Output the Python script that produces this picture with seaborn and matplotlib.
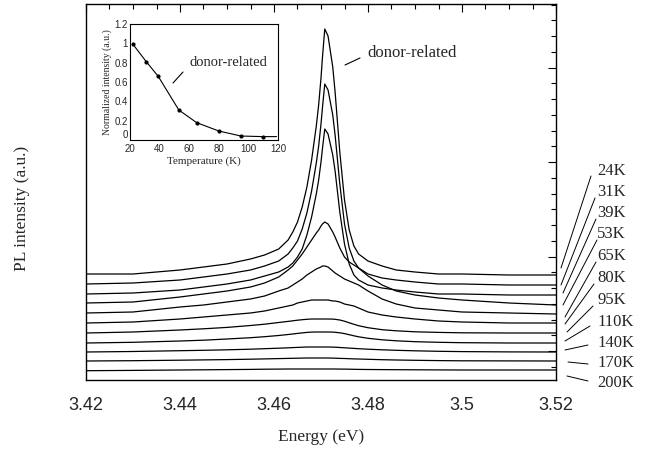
import matplotlib
matplotlib.use("Agg")
import numpy as np
import pandas as pd
import matplotlib.pyplot as plt
import seaborn as sns
from matplotlib.ticker import MultipleLocator, FixedLocator, FixedFormatter
from matplotlib.lines import Line2D

sns.set_theme(style="white")
plt.rcParams['font.family'] = ['Liberation Serif', 'DejaVu Serif']

# ---------------- data ----------------
energy = [3.42, 3.43, 3.44, 3.445, 3.45, 3.455, 3.458, 3.461, 3.463, 3.464, 3.465,
          3.466, 3.467, 3.468, 3.469, 3.4695, 3.470, 3.4703, 3.4708, 3.4715, 3.4725,
          3.473, 3.474, 3.475, 3.476, 3.477, 3.478, 3.480, 3.483, 3.486, 3.49,
          3.495, 3.50, 3.51, 3.52]

temperatures = ["24K", "31K", "39K", "53K", "65K", "80K", "95K", "110K", "140K", "170K", "200K"]

pl_24K = [106, 106, 110, 113, 116, 121, 125, 131, 140, 148, 158, 173, 193, 220, 254, 275,
          302, 322, 351, 344, 313, 288, 228, 180, 150, 134, 126, 119, 114, 110, 108, 106,
          106, 105, 105]
pl_31K = [96, 97, 100, 103, 106, 110, 114, 119, 126, 132, 139, 151, 167, 189, 217, 234,
          256, 272, 296, 290, 265, 245, 196, 156, 132, 119, 112, 106, 102, 100, 98, 96,
          96, 95, 95]
pl_39K = [86, 87, 90, 93, 96, 100, 104, 108, 113, 117, 123, 131, 145, 163, 186, 200,
          218, 231, 251, 246, 225, 209, 168, 136, 116, 105, 100, 95, 92, 90, 88, 86,
          86, 85, 85]
pl_53K = [77, 78, 83, 86, 89, 93, 97, 103, 110, 114, 120, 126, 133, 140, 147, 150,
          154, 156, 158, 156, 148, 143, 132, 123, 118, 115, 112, 104, 95, 89, 85, 82,
          80, 77, 75]
pl_65K = [67, 68, 73, 75, 78, 81, 84, 89, 92, 95, 98, 101, 105, 108, 111, 112,
          113, 114, 114, 113, 109, 107, 104, 101, 99, 97, 95, 89, 81, 76, 72, 70,
          68, 67, 66]
pl_80K = [57, 58, 61, 63, 65, 67, 69, 72, 74, 75, 77, 78, 79, 80, 80, 80,
          80, 80, 80, 80, 79, 79, 78, 76, 75, 74, 72, 68, 65, 63, 61, 59,
          58, 57, 57]
pl_95K = [47, 48, 50, 51.2, 52.6, 54.5, 55.8, 57.5, 58.6, 59.2, 59.8, 60.3, 60.7, 61, 61, 61,
          61, 61, 61, 61, 60.9, 60.7, 60, 58.8, 57.2, 55.7, 54.3, 52.3, 50.3, 49.2, 48.2, 47.6,
          47.2, 47, 47]
pl_110K = [37, 37.7, 39, 39.8, 41, 42.3, 43.3, 44.5, 45.5, 46, 46.6, 47.1, 47.6, 47.9, 48, 48,
           48, 48, 48, 48, 47.9, 47.7, 47.2, 46.4, 45.3, 44.2, 43.2, 41.7, 40.2, 39.2, 38.3, 37.7,
           37.3, 37, 37]
pl_140K = [28, 28.5, 29.3, 29.7, 30.2, 30.8, 31.3, 31.8, 32.2, 32.4, 32.6, 32.8, 33, 33, 33, 33,
           33, 33, 33, 33, 32.9, 32.8, 32.5, 32.2, 31.9, 31.6, 31.3, 30.8, 30.2, 29.7, 29.2, 28.7,
           28.4, 28.1, 28]
pl_170K = [19, 19.3, 19.8, 20.1, 20.4, 20.8, 21.1, 21.4, 21.6, 21.7, 21.8, 21.9, 22, 22, 22, 22,
           22, 22, 22, 22, 21.9, 21.8, 21.6, 21.5, 21.3, 21.1, 21, 20.7, 20.3, 20, 19.7, 19.4,
           19.2, 19.1, 19]
pl_200K = [9.3, 9.6, 10, 10.2, 10.4, 10.6, 10.8, 10.9, 11, 11, 11, 11, 11, 11, 11, 11,
           11, 11, 11, 11, 11, 11, 10.9, 10.9, 10.8, 10.7, 10.6, 10.5, 10.4, 10.3, 10.2, 10.1,
           10, 10, 10]

spectra = [pl_24K, pl_31K, pl_39K, pl_53K, pl_65K, pl_80K, pl_95K,
           pl_110K, pl_140K, pl_170K, pl_200K]

x_tick_values = [3.42, 3.44, 3.46, 3.48, 3.50, 3.52]
x_tick_labels = ["3.42", "3.44", "3.46", "3.48", "3.5", "3.52"]

inset_temp = [22, 31, 39, 53, 65, 80, 95, 110]
inset_norm = [0.99, 0.81, 0.66, 0.31, 0.18, 0.093, 0.041, 0.035]
inset_line_temp = inset_temp + [119]
inset_line_norm = inset_norm + [0.035]
inset_y_ticks = [0, 0.2, 0.4, 0.6, 0.8, 1.0, 1.2]
inset_y_labels = ["0", "0.2", "0.4", "0.6", "0.8", "1", "1.2"]
inset_x_ticks = [20, 40, 60, 80, 100, 120]

# ---------------- figure ----------------
W, H = 649, 449
fig = plt.figure(figsize=(W / 100, H / 100), dpi=100)
fig.patch.set_facecolor("white")


def fx(x):
    return x / W


def fy(y):
    return 1 - y / H


ax = fig.add_axes([fx(86), fy(380), (556 - 86) / W, (380 - 4) / H])
ax.set_facecolor("white")

df = pd.DataFrame({
    "energy": np.tile(energy, len(temperatures)),
    "intensity": np.concatenate([np.asarray(s, float) for s in spectra]),
    "temp": np.repeat(temperatures, len(energy)),
})
sns.lineplot(data=df, x="energy", y="intensity", units="temp", estimator=None,
             color="black", lw=0.9, ax=ax, sort=False, legend=False)

ax.set_xlim(3.42, 3.52)
ax.set_ylim(0, 376)
ax.set_xlabel("")
ax.set_ylabel("")
ax.xaxis.set_major_locator(FixedLocator(x_tick_values))
ax.xaxis.set_major_formatter(FixedFormatter(x_tick_labels))
ax.xaxis.set_minor_locator(MultipleLocator(0.005))
ax.yaxis.set_major_locator(FixedLocator([29, 123.5, 218, 312.5]))
ax.yaxis.set_minor_locator(FixedLocator(np.arange(13.25, 376, 15.75)))
ax.tick_params(which="both", direction="in", top=True, right=True,
               labelleft=False, color="black", width=0.8)
ax.tick_params(which="major", length=6)
ax.tick_params(which="minor", length=3.5)
ax.tick_params(axis="x", which="major", pad=12, labelsize=13)
for lab in ax.get_xticklabels():
    lab.set_fontfamily(["Liberation Sans", "DejaVu Sans"])
for sp in ax.spines.values():
    sp.set_color("black")
    sp.set_linewidth(1.0)

fig.text(fx(321), fy(437), "Energy (eV)", ha="center", va="center", fontsize=12.5)
fig.text(fx(22), fy(208), "PL intensity (a.u.)", ha="center", va="center",
         rotation=90, fontsize=12.5)

# main annotation
fig.text(fx(367), fy(53), "donor-related", ha="left", va="center", fontsize=12)
fig.add_artist(Line2D([fx(345), fx(360)], [fy(65), fy(58)], color="black", lw=0.8,
                      transform=fig.transFigure))

# right-side temperature labels with leader lines
label_y = [171, 192, 213, 234, 256, 278, 300, 322, 343, 363, 383]
lead_start = [(561, 268), (561, 285), (563, 293), (563, 305), (565, 317), (565, 324),
              (567, 332), (565, 341), (565, 350), (568, 362), (567, 376)]
lead_end = [(591, 176), (595, 198), (596, 219), (597, 240), (596, 262), (594, 284),
            (593, 306), (590, 326), (588, 345), (588, 364), (588, 381)]
for t, ly, s, e in zip(temperatures, label_y, lead_start, lead_end):
    fig.text(fx(597), fy(ly), t, ha="left", va="center", fontsize=12)
    fig.add_artist(Line2D([fx(s[0]), fx(e[0])], [fy(s[1]), fy(e[1])], color="black",
                          lw=0.7, transform=fig.transFigure))

# ---------------- inset ----------------
ins = fig.add_axes([fx(130), fy(140), 148 / W, 116 / H])
ins.set_facecolor("white")
sns.lineplot(x=inset_line_temp, y=inset_line_norm, color="black", lw=0.8, ax=ins)
sns.scatterplot(x=inset_temp, y=inset_norm, color="black", s=9, edgecolor="black",
                linewidth=0, ax=ins)
ins.set_xlim(20, 120)
ins.set_ylim(0, 1.2)
ins.set_xticks(inset_x_ticks)
ins.set_yticks(inset_y_ticks)
ins.set_yticklabels(inset_y_labels)
ins.tick_params(direction="in", length=2.5, width=0.6, labelsize=7, color="black")
ins.tick_params(axis="x", pad=3)
ins.tick_params(axis="y", pad=1.5)
for lab in ins.get_xticklabels() + ins.get_yticklabels():
    lab.set_fontfamily(["Liberation Sans", "DejaVu Sans"])
ins.get_yticklabels()[0].set_va("bottom")
for sp in ins.spines.values():
    sp.set_color("black")
    sp.set_linewidth(0.8)
ins.set_xlabel("Temperature (K)", fontsize=8, labelpad=1.5)
ins.set_ylabel("Normalized intensity (a.u.)", fontsize=7, labelpad=2)

fig.text(fx(189), fy(62), "donor-related", ha="left", va="center", fontsize=10.5)
fig.add_artist(Line2D([fx(173), fx(183)], [fy(83), fy(72)], color="black", lw=0.8,
                      transform=fig.transFigure))

fig.savefig("out.png", dpi=100, facecolor="white")
